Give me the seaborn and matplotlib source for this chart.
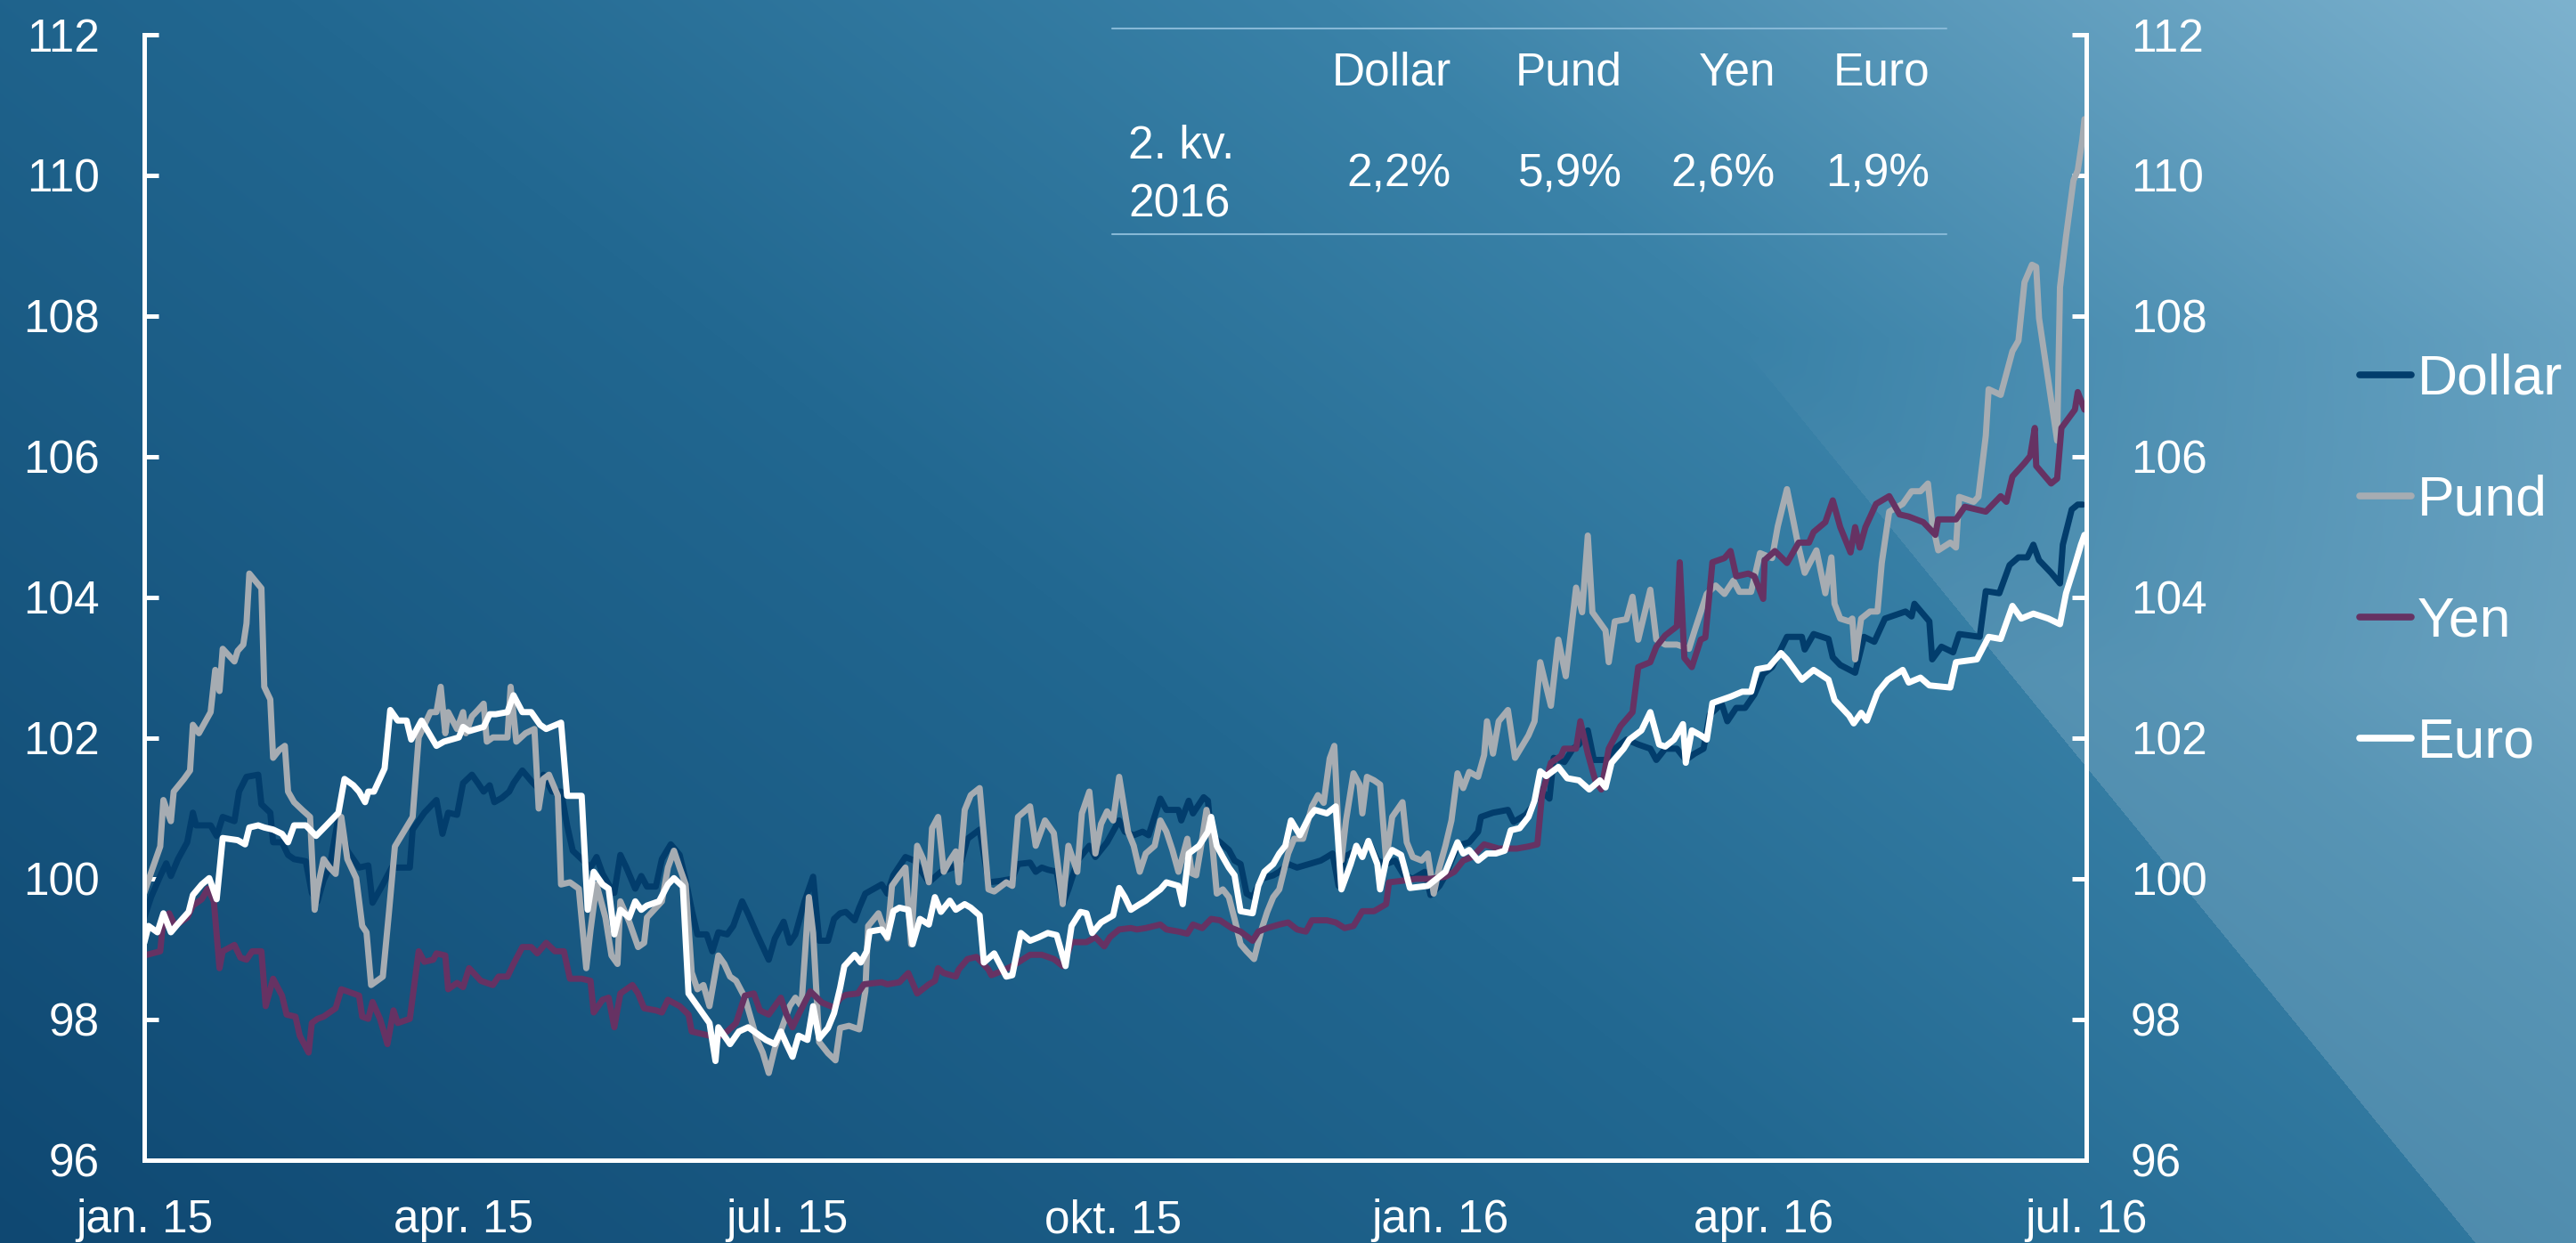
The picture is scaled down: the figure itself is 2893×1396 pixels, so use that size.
import numpy as np
import pandas as pd
import matplotlib
matplotlib.use("Agg")
import matplotlib.pyplot as plt
import seaborn as sns
from matplotlib.lines import Line2D

sns.set_style("white")
plt.rcParams["font.family"] = ["Liberation Sans", "DejaVu Sans"]

START = pd.Timestamp("2015-01-01")

# ---------------- data (days after 1 Jan 2015, index values) ----------------
dollar_days = [0.0, 2.0, 4.5, 6.2, 7.5, 9.5, 12.1, 13.7, 14.6, 18.7, 20.4, 22.1, 25.4, 26.7, 28.8, 32.1, 33.0, 35.5, 36.3, 38.8,
               40.5, 42.2, 45.5, 47.2, 48.8, 50.5, 52.2, 54.7, 57.2, 60.5, 63.1, 64.3, 67.2, 69.7, 74.8, 75.6, 78.9, 82.3, 84.0, 85.6,
               88.1, 89.8, 92.3, 94.0, 95.6, 97.3, 98.6, 100.7, 102.8, 104.0, 106.5, 109.0, 110.7, 112.4, 114.9, 117.4, 119.1, 120.7, 123.2, 125.7,
               127.4, 129.1, 130.8, 132.4, 134.1, 135.8, 138.3, 140.0, 141.6, 144.1, 145.8, 148.3, 150.8, 152.5, 154.2, 155.8, 158.4, 160.0, 161.7, 164.2,
               165.9, 168.4, 170.1, 172.6, 175.9, 177.6, 180.1, 181.8, 183.4, 186.0, 188.4, 190.1, 192.6, 194.3, 196.0, 197.6, 200.1, 201.4, 203.1, 205.2,
               207.7, 209.3, 211.0, 214.4, 216.9, 221.0, 224.4, 227.7, 230.2, 231.9, 235.3, 237.8, 241.1, 244.5, 246.1, 249.5, 251.1, 252.8, 254.5, 257.0,
               258.7, 260.3, 262.9, 266.2, 267.9, 271.2, 274.6, 276.2, 278.7, 281.2, 282.9, 286.2, 287.9, 291.3, 292.1, 294.2, 295.4, 298.4, 299.6, 300.5,
               303.0, 305.5, 307.1, 308.8, 310.5, 312.2, 314.7, 318.0, 319.7, 322.2, 324.7, 328.1, 331.4, 333.1, 334.7, 336.4, 338.1, 341.4, 343.1, 344.8,
               347.3, 349.8, 352.3, 354.8, 357.3, 359.0, 360.7, 362.3, 364.8, 366.5, 369.9, 373.2, 375.7, 376.5, 379.9, 384.1, 385.7, 389.1, 390.7, 393.2,
               395.8, 397.0, 400.0, 402.4, 404.1, 406.6, 408.3, 411.6, 414.2, 417.5, 420.8, 424.2, 425.9, 428.4, 431.7, 434.2, 436.7, 439.2, 440.9, 444.3,
               445.9, 448.4, 450.9, 453.5, 456.0, 458.5, 462.7, 466.9, 467.7, 470.2, 474.4, 475.6, 477.7, 481.9, 484.4, 487.3, 490.3, 496.1, 497.8, 498.6,
               502.8, 503.6, 506.2, 509.5, 511.2, 517.0, 518.7, 522.5, 525.4, 527.9, 530.4, 532.1, 533.7, 537.1, 539.6, 540.4, 542.9, 544.6, 546.0]
dollar_vals = [99.45, 99.75, 100.04, 100.22, 100.04, 100.28, 100.52, 100.94, 100.76, 100.76, 100.61, 100.88, 100.82, 101.24, 101.45, 101.48, 101.06, 100.94, 100.52, 100.52,
               100.34, 100.28, 100.25, 99.80, 99.68, 99.98, 100.16, 100.88, 100.40, 100.16, 100.19, 99.66, 99.92, 100.16, 100.16, 100.70, 100.94, 101.12, 100.64, 100.94,
               100.91, 101.36, 101.48, 101.36, 101.24, 101.33, 101.09, 101.15, 101.24, 101.36, 101.54, 101.39, 101.30, 101.48, 101.24, 101.24, 100.76, 100.40, 100.28, 100.16,
               100.31, 100.07, 99.92, 99.80, 100.34, 100.16, 99.86, 100.04, 99.89, 99.89, 100.28, 100.49, 100.34, 99.98, 99.56, 99.21, 99.21, 98.97, 99.24, 99.21,
               99.33, 99.68, 99.50, 99.21, 98.85, 99.15, 99.39, 99.09, 99.21, 99.68, 100.03, 99.12, 99.12, 99.43, 99.51, 99.53, 99.41, 99.59, 99.79, 99.85,
               99.92, 99.79, 100.05, 100.31, 100.26, 99.95, 100.10, 100.16, 100.26, 100.57, 100.70, 99.95, 99.97, 100.00, 100.21, 100.23, 100.10, 100.16, 100.13, 100.10,
               99.64, 99.85, 100.26, 100.47, 100.31, 100.52, 100.83, 100.67, 100.62, 100.67, 100.62, 101.14, 100.98, 100.98, 100.83, 101.11, 100.93, 101.16, 101.11, 100.62,
               100.52, 100.41, 100.26, 100.21, 99.79, 99.74, 100.00, 100.05, 100.10, 100.21, 100.16, 100.21, 100.26, 100.31, 100.36, 99.90, 100.31, 100.41, 100.36, 100.54,
               100.26, 100.21, 100.26, 100.05, 100.00, 100.05, 100.10, 99.77, 99.90, 100.05, 100.47, 100.52, 100.67, 100.88, 100.94, 100.98, 100.81, 100.91, 101.01, 101.27,
               101.14, 101.72, 101.66, 101.85, 101.91, 102.11, 101.69, 101.69, 101.85, 101.98, 101.91, 101.85, 101.69, 101.85, 101.85, 101.69, 101.78, 101.85, 102.33, 102.49,
               102.24, 102.43, 102.43, 102.62, 102.91, 103.01, 103.44, 103.44, 103.26, 103.48, 103.41, 103.15, 103.04, 102.93, 103.44, 103.37, 103.70, 103.80, 103.73, 103.91,
               103.66, 103.12, 103.30, 103.22, 103.48, 103.44, 104.09, 104.06, 104.46, 104.57, 104.57, 104.75, 104.53, 104.35, 104.20, 104.75, 105.25, 105.32, 105.32]

pund_days = [0.0, 2.0, 4.5, 5.4, 6.2, 7.5, 8.3, 11.2, 12.9, 13.7, 15.4, 18.7, 20.0, 21.2, 22.1, 25.4, 26.3, 27.9, 28.8, 29.6,
             33.0, 33.8, 35.5, 36.3, 38.0, 39.6, 40.5, 42.2, 44.7, 46.7, 48.0, 48.8, 50.5, 52.2, 53.9, 55.5, 57.2, 59.7, 61.4, 62.6,
             63.9, 67.2, 68.9, 70.6, 75.6, 77.3, 80.6, 82.3, 83.5, 84.8, 85.6, 88.1, 89.8, 90.6, 92.3, 94.0, 95.6, 96.5, 98.2, 102.3,
             103.2, 104.8, 107.4, 109.9, 111.1, 112.4, 114.0, 116.5, 117.4, 119.9, 122.4, 124.5, 125.7, 127.4, 129.9, 131.6, 133.3, 134.1, 136.6, 139.1,
             140.8, 141.6, 145.8, 147.5, 149.2, 150.8, 152.5, 154.2, 155.8, 157.5, 159.2, 161.7, 163.4, 165.0, 166.7, 169.2, 170.9, 172.6, 174.2, 175.9,
             177.6, 180.1, 181.8, 183.4, 185.1, 187.2, 188.4, 190.1, 192.6, 194.7, 196.0, 198.5, 201.4, 203.1, 203.9, 206.8, 209.3, 210.6, 212.7, 214.4,
             216.0, 217.7, 219.4, 221.0, 221.9, 223.6, 225.2, 226.9, 228.6, 229.4, 231.1, 232.8, 235.3, 237.8, 239.4, 242.8, 244.5, 246.1, 249.5, 251.1,
             253.7, 256.2, 258.7, 260.3, 262.8, 264.1, 266.2, 267.9, 269.5, 271.2, 272.9, 274.6, 277.1, 278.7, 280.4, 282.1, 284.6, 286.2, 287.9, 289.6,
             291.3, 293.8, 295.0, 296.3, 297.5, 299.2, 300.5, 302.1, 303.8, 305.5, 307.1, 308.8, 310.5, 312.6, 314.7, 316.3, 318.0, 319.7, 322.2, 323.9,
             326.4, 328.9, 330.6, 332.2, 333.9, 335.2, 336.4, 337.2, 338.5, 340.6, 342.3, 343.1, 344.4, 346.4, 348.1, 349.8, 351.5, 354.4, 355.6, 357.3,
             359.8, 361.5, 363.2, 364.8, 366.5, 368.2, 369.9, 371.5, 373.2, 375.7, 377.4, 378.2, 379.9, 381.5, 384.1, 386.1, 389.9, 391.6, 393.2, 396.2,
             398.3, 400.4, 403.3, 405.0, 406.6, 407.9, 411.6, 412.5, 414.2, 417.5, 419.2, 420.8, 424.2, 425.9, 428.4, 431.7, 435.1, 436.7, 440.1, 442.6,
             445.1, 447.6, 449.3, 452.6, 455.1, 458.5, 460.1, 462.7, 466.0, 467.7, 471.0, 473.5, 475.2, 476.1, 477.7, 480.2, 481.1, 481.9, 483.6, 486.1,
             488.2, 489.4, 491.5, 495.3, 497.8, 500.3, 502.4, 503.6, 505.3, 508.7, 510.3, 511.2, 515.3, 516.6, 518.7, 519.5, 522.9, 526.2, 527.9, 529.6,
             531.7, 532.9, 533.7, 538.8, 539.6, 541.3, 543.4, 544.6, 545.9, 546.5]
pund_vals = [99.80, 100.10, 100.46, 101.12, 101.00, 100.82, 101.24, 101.42, 101.54, 102.19, 102.07, 102.37, 102.97, 102.67, 103.27, 103.09, 103.24, 103.33, 103.63, 104.34,
             104.13, 102.73, 102.55, 101.72, 101.83, 101.89, 101.24, 101.09, 100.97, 100.88, 99.56, 99.86, 100.28, 100.16, 100.07, 100.88, 100.28, 100.01, 99.33, 99.24,
             98.49, 98.61, 99.51, 100.46, 100.88, 102.01, 102.37, 102.37, 102.73, 102.07, 102.37, 102.13, 102.37, 102.07, 102.31, 102.40, 102.49, 101.95, 102.01, 102.01,
             102.73, 101.95, 102.07, 102.13, 101.00, 101.42, 101.48, 101.18, 99.92, 99.95, 99.86, 98.73, 99.27, 99.92, 99.45, 98.91, 98.79, 99.68, 99.39, 99.03,
             99.09, 99.45, 99.68, 100.16, 100.40, 100.16, 99.92, 98.67, 98.43, 98.49, 98.19, 98.91, 98.79, 98.61, 98.55, 98.31, 98.01, 97.71, 97.53, 97.24,
             97.59, 97.95, 98.19, 98.31, 98.19, 99.74, 99.23, 97.68, 97.52, 97.42, 97.88, 97.91, 97.86, 98.40, 99.33, 99.51, 99.15, 99.90, 100.05, 100.16,
             99.07, 100.47, 100.28, 99.95, 100.72, 100.88, 100.10, 100.26, 100.39, 99.95, 100.98, 101.19, 101.29, 99.85, 99.82, 99.95, 99.90, 100.88, 101.03, 100.47,
             100.83, 100.65, 99.64, 100.47, 100.10, 100.93, 101.24, 100.36, 100.78, 100.96, 100.83, 101.45, 100.67, 100.47, 100.10, 100.36, 100.47, 100.83, 100.67, 100.41,
             100.10, 100.57, 100.08, 100.05, 100.41, 100.98, 100.67, 99.79, 99.85, 99.74, 99.43, 99.07, 98.97, 98.86, 99.28, 99.53, 99.74, 99.85, 100.36, 100.57,
             100.57, 101.03, 101.19, 101.08, 101.71, 101.89, 100.67, 100.26, 100.83, 101.50, 101.34, 100.93, 101.45, 101.40, 101.34, 100.26, 100.88, 101.09, 100.52, 100.31,
             100.26, 100.36, 99.79, 100.16, 100.47, 100.83, 101.50, 101.29, 101.52, 101.45, 101.76, 102.24, 101.78, 102.24, 102.40, 101.72, 102.04, 102.24, 103.08, 102.46,
             103.40, 102.88, 104.14, 103.79, 104.88, 103.79, 103.53, 103.08, 103.66, 103.69, 104.01, 103.40, 104.11, 103.40, 103.33, 103.33, 103.27, 103.53, 104.05, 104.17,
             104.05, 104.24, 104.08, 104.08, 104.63, 104.56, 105.01, 105.54, 104.71, 104.35, 104.67, 104.06, 104.57, 103.91, 103.70, 103.66, 103.70, 103.12, 103.70, 103.80,
             103.80, 104.49, 105.22, 105.33, 105.51, 105.51, 105.62, 105.07, 104.67, 104.78, 104.71, 105.43, 105.36, 105.43, 106.30, 106.96, 106.88, 107.50, 107.65, 108.48,
             108.73, 108.70, 107.97, 106.23, 108.41, 109.13, 109.93, 110.07, 110.51, 110.80]

yen_days = [0.0, 4.5, 5.4, 7.0, 8.7, 10.4, 12.1, 13.7, 16.2, 17.9, 19.6, 21.2, 22.1, 25.4, 27.1, 28.8, 30.4, 33.0, 34.2, 36.3,
            38.8, 40.1, 42.6, 43.8, 46.3, 47.2, 48.8, 50.5, 53.9, 55.5, 57.2, 60.5, 61.4, 63.1, 64.3, 66.4, 68.5, 70.2, 71.4, 74.8,
            77.3, 78.9, 81.4, 82.3, 84.8, 85.6, 88.1, 89.8, 91.5, 94.8, 98.2, 99.8, 102.3, 104.0, 106.5, 109.0, 110.7, 113.2, 115.7, 118.2,
            119.9, 123.2, 125.7, 126.6, 129.1, 130.8, 132.4, 134.1, 137.5, 139.1, 140.8, 144.1, 145.8, 147.5, 150.8, 153.3, 154.2, 159.2, 160.9, 164.2,
            166.7, 169.2, 171.7, 173.4, 175.9, 179.3, 180.9, 182.6, 184.3, 187.6, 190.9, 194.3, 196.0, 197.6, 201.0, 202.7, 207.7, 209.3, 212.7, 215.2,
            217.7, 221.0, 222.7, 223.6, 225.2, 228.6, 229.4, 231.9, 234.4, 237.8, 238.6, 241.1, 244.5, 246.1, 249.5, 252.8, 256.2, 258.7, 261.2, 265.4,
            267.9, 270.4, 272.0, 274.6, 277.9, 279.6, 282.1, 286.2, 287.9, 291.3, 293.8, 295.4, 298.0, 300.5, 303.0, 306.3, 308.8, 312.2, 313.8, 316.3,
            319.7, 322.2, 324.7, 327.2, 328.9, 333.1, 335.6, 338.1, 340.6, 343.1, 346.4, 349.8, 350.6, 354.0, 358.2, 362.3, 366.5, 369.0, 371.5, 374.0,
            377.4, 381.5, 386.6, 389.9, 392.4, 393.7, 396.2, 399.1, 399.9, 403.3, 404.5, 406.6, 408.7, 410.4, 412.5, 415.8, 419.2, 420.8, 424.2, 425.9,
            428.4, 431.7, 432.5, 433.8, 435.9, 438.4, 439.7, 441.7, 445.1, 446.8, 448.4, 451.8, 453.5, 456.0, 456.4, 459.3, 462.7, 466.0, 468.9, 470.2,
            473.5, 475.6, 477.7, 480.6, 481.9, 483.2, 484.8, 487.8, 491.5, 494.4, 497.0, 501.1, 504.5, 505.3, 510.3, 512.8, 516.2, 518.7, 522.9, 524.5,
            526.2, 529.6, 531.2, 532.5, 532.9, 537.1, 538.8, 540.0, 543.8, 544.6, 546.5]
yen_vals = [98.91, 98.97, 99.45, 99.51, 99.33, 99.39, 99.45, 99.62, 99.71, 99.86, 99.68, 98.73, 98.97, 99.06, 98.88, 98.85, 98.97, 98.97, 98.19, 98.58,
            98.34, 98.07, 98.04, 97.77, 97.53, 97.95, 98.01, 98.04, 98.16, 98.43, 98.40, 98.34, 98.04, 98.01, 98.25, 98.01, 97.65, 98.13, 97.95, 98.01,
            98.97, 98.82, 98.85, 98.94, 98.91, 98.43, 98.52, 98.46, 98.73, 98.55, 98.49, 98.61, 98.61, 98.79, 99.03, 99.03, 98.94, 99.09, 98.97, 98.97,
            98.58, 98.58, 98.55, 98.10, 98.28, 98.31, 97.89, 98.37, 98.49, 98.37, 98.16, 98.13, 98.10, 98.28, 98.19, 98.07, 97.83, 97.77, 97.73, 97.83,
            97.95, 98.34, 98.37, 98.13, 98.07, 98.31, 98.07, 97.89, 98.07, 98.40, 98.24, 98.17, 98.30, 98.35, 98.37, 98.50, 98.53, 98.50, 98.53, 98.66,
            98.37, 98.50, 98.55, 98.73, 98.66, 98.61, 98.71, 98.86, 98.89, 98.71, 98.63, 98.68, 98.76, 98.81, 98.92, 98.92, 98.86, 98.76, 99.10, 99.10,
            99.17, 99.04, 99.17, 99.28, 99.30, 99.28, 99.30, 99.35, 99.28, 99.25, 99.22, 99.35, 99.30, 99.43, 99.41, 99.30, 99.25, 99.12, 99.25, 99.30,
            99.35, 99.38, 99.28, 99.25, 99.41, 99.41, 99.38, 99.30, 99.33, 99.54, 99.54, 99.64, 99.95, 99.97, 100.00, 100.00, 100.03, 100.10, 100.26, 100.31,
            100.49, 100.43, 100.43, 100.46, 100.49, 101.20, 101.65, 101.75, 101.85, 101.85, 102.24, 101.78, 101.40, 101.27, 101.85, 102.17, 102.37, 103.01, 103.08, 103.30,
            103.46, 103.59, 104.50, 103.14, 103.01, 103.40, 103.43, 104.50, 104.56, 104.66, 104.30, 104.34, 104.30, 103.98, 104.53, 104.66, 104.49, 104.78, 104.78, 104.93,
            105.07, 105.38, 105.00, 104.64, 105.00, 104.71, 105.00, 105.33, 105.44, 105.18, 105.15, 105.07, 104.89, 105.11, 105.11, 105.29, 105.25, 105.22, 105.44, 105.36,
            105.72, 105.91, 106.01, 106.41, 105.87, 105.62, 105.69, 106.41, 106.67, 106.92, 106.67]

euro_days = [0.0, 1.2, 3.7, 5.4, 7.5, 9.5, 12.5, 13.7, 16.2, 18.3, 20.4, 22.1, 26.3, 28.4, 29.6, 32.1, 33.8, 36.3, 38.8, 40.5,
             42.2, 45.5, 48.4, 51.3, 54.7, 56.4, 58.9, 60.5, 62.2, 63.1, 64.7, 67.7, 69.3, 71.4, 73.9, 75.2, 78.1, 82.3, 84.4, 88.6,
             89.8, 91.5, 95.6, 97.3, 99.0, 102.3, 104.0, 106.5, 109.0, 111.5, 113.2, 117.4, 119.1, 123.2, 124.9, 126.6, 129.1, 130.8, 132.4, 134.1,
             136.6, 138.3, 140.0, 141.6, 145.0, 147.5, 149.2, 151.7, 153.3, 155.0, 157.5, 159.2, 160.9, 161.7, 165.0, 167.5, 170.1, 172.6, 175.1, 177.6,
             179.3, 180.9, 182.6, 184.3, 186.8, 188.4, 190.1, 192.6, 194.3, 196.0, 197.2, 200.1, 201.8, 203.5, 204.3, 207.7, 209.3, 211.0, 212.7, 215.2,
             216.4, 218.5, 221.0, 222.7, 224.4, 226.9, 228.6, 231.1, 232.8, 235.3, 236.5, 239.4, 242.8, 244.5, 246.9, 249.5, 252.0, 254.5, 257.0, 259.5,
             261.2, 263.7, 265.4, 267.0, 269.5, 272.9, 274.6, 276.2, 277.9, 280.4, 282.1, 284.6, 286.2, 287.9, 291.3, 292.5, 294.2, 297.1, 299.6, 300.5,
             302.1, 303.8, 305.5, 307.1, 308.8, 312.2, 313.8, 315.5, 318.0, 319.7, 321.4, 323.0, 325.5, 328.1, 329.7, 333.1, 335.6, 337.2, 339.8, 341.4,
             343.1, 344.8, 347.3, 348.1, 349.8, 351.5, 354.0, 356.5, 361.5, 364.0, 366.5, 369.9, 371.5, 373.2, 375.7, 378.2, 380.7, 383.2, 384.9, 387.4,
             389.9, 391.6, 393.2, 394.9, 398.3, 400.8, 404.1, 407.0, 410.0, 411.6, 413.3, 416.7, 418.3, 421.7, 424.2, 426.7, 428.4, 430.9, 433.4, 434.2,
             435.9, 438.4, 440.1, 441.7, 446.8, 450.1, 452.6, 454.3, 457.6, 461.0, 462.7, 466.9, 470.2, 474.4, 476.1, 480.2, 481.5, 483.6, 485.2, 488.2,
             491.1, 495.3, 497.0, 500.3, 502.8, 508.7, 510.3, 516.2, 519.5, 522.9, 526.2, 528.7, 532.1, 536.3, 539.6, 541.3, 543.8, 545.5, 546.5]
euro_vals = [99.09, 99.33, 99.24, 99.51, 99.24, 99.36, 99.53, 99.77, 99.92, 100.01, 99.71, 100.58, 100.55, 100.49, 100.73, 100.76, 100.73, 100.70, 100.64, 100.52,
             100.76, 100.76, 100.61, 100.76, 100.94, 101.42, 101.33, 101.24, 101.09, 101.24, 101.24, 101.57, 102.40, 102.25, 102.25, 101.98, 102.25, 101.89, 101.95, 102.01,
             102.16, 102.10, 102.16, 102.34, 102.34, 102.37, 102.61, 102.37, 102.37, 102.19, 102.13, 102.22, 101.18, 101.18, 99.56, 100.10, 99.92, 99.86, 99.21, 99.56,
             99.45, 99.68, 99.56, 99.62, 99.68, 99.92, 100.01, 99.89, 98.37, 98.25, 98.07, 97.95, 97.41, 97.89, 97.65, 97.83, 97.89, 97.80, 97.71, 97.65,
             97.83, 97.65, 97.47, 97.77, 97.71, 98.19, 97.73, 97.88, 98.09, 98.45, 98.76, 98.92, 98.81, 98.97, 99.25, 99.28, 99.17, 99.54, 99.59, 99.56,
             99.07, 99.43, 99.35, 99.74, 99.53, 99.69, 99.56, 99.64, 99.59, 99.48, 98.81, 98.94, 98.61, 98.63, 99.23, 99.12, 99.17, 99.23, 99.20, 98.76,
             99.33, 99.53, 99.51, 99.23, 99.38, 99.48, 99.87, 99.74, 99.56, 99.64, 99.69, 99.79, 99.85, 99.95, 99.90, 99.64, 100.36, 100.47, 100.67, 100.88,
             100.47, 100.31, 100.16, 100.05, 99.54, 99.51, 99.90, 100.10, 100.21, 100.36, 100.47, 100.83, 100.62, 100.88, 100.98, 100.93, 101.03, 99.85, 100.21, 100.47,
             100.31, 100.54, 100.21, 99.85, 100.26, 100.41, 100.34, 99.87, 99.90, 100.00, 100.10, 100.52, 100.36, 100.41, 100.26, 100.36, 100.36, 100.40, 100.69, 100.72,
             100.88, 101.11, 101.53, 101.46, 101.59, 101.43, 101.40, 101.27, 101.40, 101.30, 101.65, 101.85, 101.98, 102.11, 102.37, 101.91, 101.88, 101.98, 102.20, 101.65,
             102.11, 102.04, 101.98, 102.50, 102.59, 102.66, 102.66, 102.98, 103.01, 103.21, 103.12, 102.83, 102.97, 102.83, 102.54, 102.32, 102.21, 102.36, 102.25, 102.65,
             102.83, 102.97, 102.79, 102.86, 102.75, 102.72, 103.08, 103.12, 103.44, 103.41, 103.88, 103.70, 103.77, 103.70, 103.62, 104.06, 104.46, 104.75, 104.89]

series_names = ["Dollar", "Pund", "Yen", "Euro"]
series_colors = ["#023d6c", "#a6acb2", "#663263", "#ffffff"]

tick_dates = ["2015-01-01", "2015-04-01", "2015-07-01", "2015-10-01", "2016-01-01", "2016-04-01", "2016-07-01"]
tick_labels = ["jan. 15", "apr. 15", "jul. 15", "okt. 15", "jan. 16", "apr. 16", "jul. 16"]
y_ticks = [96, 98, 100, 102, 104, 106, 108, 110, 112]

table_header = ["Dollar", "Pund", "Yen", "Euro"]
table_row_label = ["2. kv.", "2016"]
table_values = ["2,2%", "5,9%", "2,6%", "1,9%"]

# ---------------- build long dataframe ----------------
frames = []
for name, d, v in zip(series_names,
                      [dollar_days, pund_days, yen_days, euro_days],
                      [dollar_vals, pund_vals, yen_vals, euro_vals]):
    frames.append(pd.DataFrame({"date": START + pd.to_timedelta(np.array(d), unit="D"),
                                "value": v, "series": name}))
df = pd.concat(frames, ignore_index=True)

# ---------------- figure & background ----------------
W, H = 2893, 1396
DPI = 100
fig = plt.figure(figsize=(W / DPI, H / DPI), dpi=DPI)

yy, xx = np.mgrid[0:H, 0:W].astype(float)
Xn = xx / (W - 1)
Yn = 1 - yy / (H - 1)
t = 0.62 * Xn + 0.38 * Yn
stops_t = [0.0, 0.45, 0.7, 1.0]
stops_c = np.array([[15, 72, 114], [34, 104, 145], [58, 130, 168], [125, 178, 206]]) / 255.0
img = np.stack([np.interp(t, stops_t, stops_c[:, i]) for i in range(3)], axis=-1)
edge = 2538 + 0.8176 * (yy - 1100)
tri = (xx > edge).astype(float)
fade = np.clip((yy - 380) / 380.0, 0, 1)
a = 0.15 * tri * fade
img = img + (1 - img) * a[..., None]

bg = fig.add_axes([0, 0, 1, 1], zorder=-10)
bg.imshow(img, extent=[0, 1, 0, 1], aspect="auto", interpolation="bilinear")
bg.axis("off")

# ---------------- main axes ----------------
ax = fig.add_axes([162 / W, 1 - 1303 / H, (2343 - 162) / W, (1303 - 39) / H])
ax.set_facecolor("none")

sns.lineplot(data=df, x="date", y="value", hue="series", hue_order=series_names,
             palette=dict(zip(series_names, series_colors)), estimator=None, sort=False,
             linewidth=5.0, legend=False, ax=ax)

ax.set_xlim(START, pd.Timestamp("2016-07-01"))
ax.set_ylim(96, 112)
ax.set_yticks(y_ticks)
ax.set_yticklabels([str(v) for v in y_ticks])
ax.set_xticks(pd.to_datetime(tick_dates))
ax.set_xticklabels(tick_labels)
ax.set_xlabel("")
ax.set_ylabel("")

for side in ["left", "right", "bottom"]:
    ax.spines[side].set_visible(True)
    ax.spines[side].set_color("white")
    ax.spines[side].set_linewidth(3.6)
ax.spines["top"].set_visible(False)

ax.tick_params(axis="y", which="major", direction="in", length=11.5, width=3.6, color="white",
               labelcolor="white", labelsize=37, left=True, right=True,
               labelleft=True, labelright=True, pad=36)
ax.tick_params(axis="x", which="major", length=0, labelcolor="white", labelsize=37, pad=31,
               bottom=True)
ax.grid(False)

# ---------------- table ----------------
line_col = "#86b8d6"
fig.add_artist(Line2D([1249 / W, 2186 / W], [1 - 32 / H, 1 - 32 / H], color=line_col, lw=1.5,
                      transform=fig.transFigure))
fig.add_artist(Line2D([1249 / W, 2186 / W], [1 - 263 / H, 1 - 263 / H], color=line_col, lw=1.5,
                      transform=fig.transFigure))
col_right = [1630, 1822, 1994, 2167]
for xr, h, v in zip(col_right, table_header, table_values):
    fig.text(xr / W, 1 - 95 / H, h, ha="right", va="baseline", color="white", fontsize=37)
    fig.text(xr / W, 1 - 210 / H, v, ha="right", va="baseline", color="white", fontsize=37)
fig.text(1267 / W, 1 - 178 / H, table_row_label[0], ha="left", va="baseline", color="white", fontsize=37)
fig.text(1267 / W, 1 - 243 / H, table_row_label[1], ha="left", va="baseline", color="white", fontsize=37)

# ---------------- legend ----------------
handles = [Line2D([0], [0], color=c, lw=5.5, solid_capstyle="round") for c in series_colors]
leg = fig.legend(handles, series_names, loc="upper left", bbox_to_anchor=(2650 / W, 1 - 397 / H),
                 bbox_transform=fig.transFigure, frameon=False, fontsize=45,
                 handlelength=0.93, handletextpad=0.1, labelspacing=1.23,
                 borderpad=0, borderaxespad=0)
for txt in leg.get_texts():
    txt.set_color("white")

fig.savefig("out.png", dpi=DPI)
